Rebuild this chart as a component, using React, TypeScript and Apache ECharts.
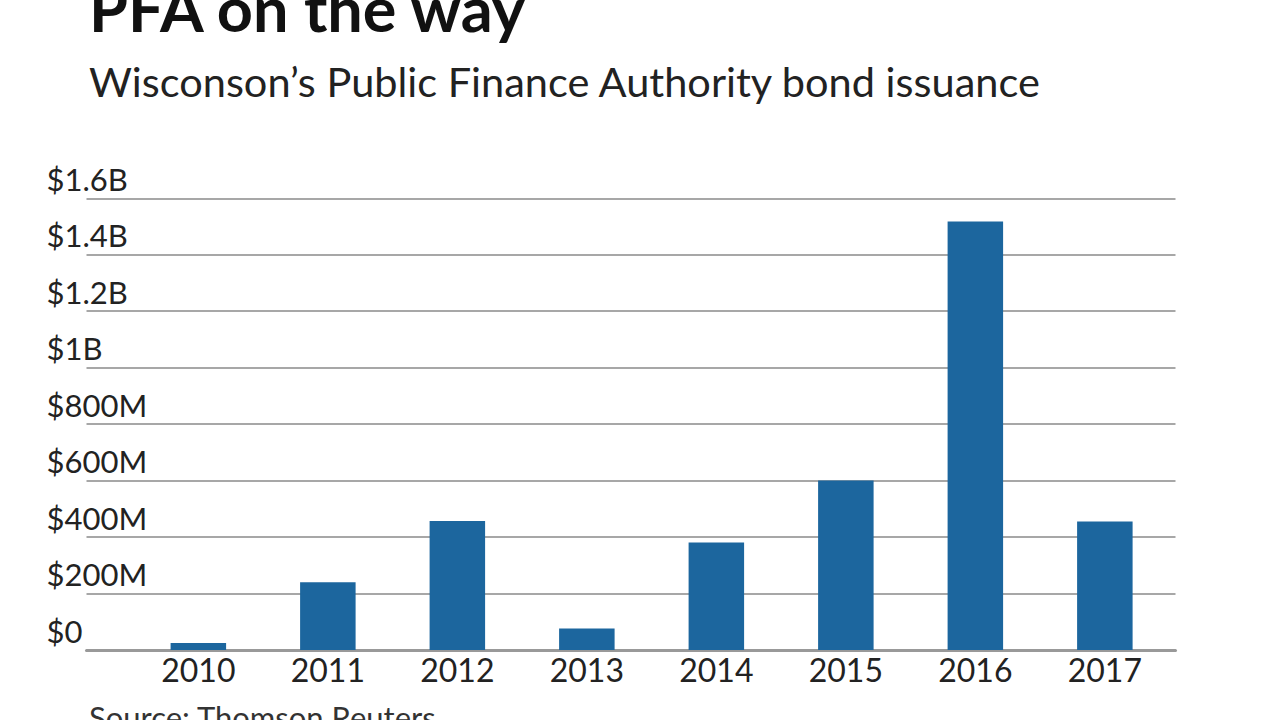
import React, { useEffect, useRef } from "react";
import * as echarts from "echarts";

const years = ["2010", "2011", "2012", "2013", "2014", "2015", "2016", "2017"];
const issuanceM = [25, 240, 457, 76, 381, 600, 1518, 455];
const yMax = 1600;
const yStep = 200;

const titleText = "PFA on the way";
const subtitleText = "Wisconson\u2019s Public Finance Authority bond issuance";
const sourceText = "Source: Thomson Reuters";

function fmtY(v: number): string {
  if (v === 0) return "$0";
  if (v >= 1000) return "$" + v / 1000 + "B";
  return "$" + v + "M";
}

export default function App() {
  const ref = useRef<HTMLDivElement>(null);
  useEffect(() => {
    if (!ref.current) return;
    const chart = echarts.init(ref.current, null, { renderer: "svg" });
    const font = "Lato";
    const top = 198.3;
    const bottom = 720 - 650;
    chart.setOption({
      animation: false,
      backgroundColor: "#ffffff",
      textStyle: { fontFamily: font },
      graphic: [
        {
          type: "text",
          left: 89,
          top: -24,
          style: { text: titleText, font: "bold 63px Lato", fill: "#111" },
        },
        {
          type: "text",
          left: 89,
          top: 60,
          style: { text: subtitleText, font: "normal 41.5px Lato", fill: "#222" },
        },
        {
          type: "text",
          left: 89,
          top: 701,
          style: { text: sourceText, font: "normal 31px Lato", fill: "#333" },
        },
      ],
      grid: [
        { left: 86.5, right: 1280 - 1175.5, top, bottom },
        { left: 133.6, width: 1036, top, bottom },
      ],
      xAxis: [
        {
          type: "value",
          gridIndex: 0,
          min: 0,
          max: 1,
          axisLabel: { show: false },
          axisTick: { show: false },
          splitLine: { show: false },
          axisLine: { show: true, lineStyle: { color: "#999", width: 3 } },
        },
        {
          type: "category",
          gridIndex: 1,
          data: years,
          axisLine: { show: false },
          axisTick: { show: false },
          axisLabel: {
            color: "#222",
            fontFamily: font,
            fontSize: 32,
            margin: 3,
          },
        },
      ],
      yAxis: [
        {
          type: "value",
          gridIndex: 0,
          min: 0,
          max: yMax,
          interval: yStep,
          axisLine: { show: false },
          axisTick: { show: false },
          splitLine: { show: true, lineStyle: { color: "#8a8a8a", width: 1.5 } },
          axisLabel: {
            formatter: fmtY,
            align: "left",
            verticalAlign: "bottom",
            margin: 40,
            color: "#222",
            fontFamily: font,
            fontSize: 31,
            lineHeight: 31,
            padding: [0, 0, 4, 0],
          },
        },
        {
          type: "value",
          gridIndex: 1,
          min: 0,
          max: yMax,
          interval: yStep,
          show: false,
          splitLine: { show: false },
        },
      ],
      series: [
        {
          type: "bar",
          xAxisIndex: 1,
          yAxisIndex: 1,
          data: issuanceM,
          barWidth: 55.5,
          itemStyle: { color: "#1c669e" },
        },
      ],
    });
    return () => chart.dispose();
  }, []);
  return (
    <div
      ref={ref}
      style={{ position: "fixed", left: 0, top: 0, width: 1280, height: 720 }}
    />
  );
}
